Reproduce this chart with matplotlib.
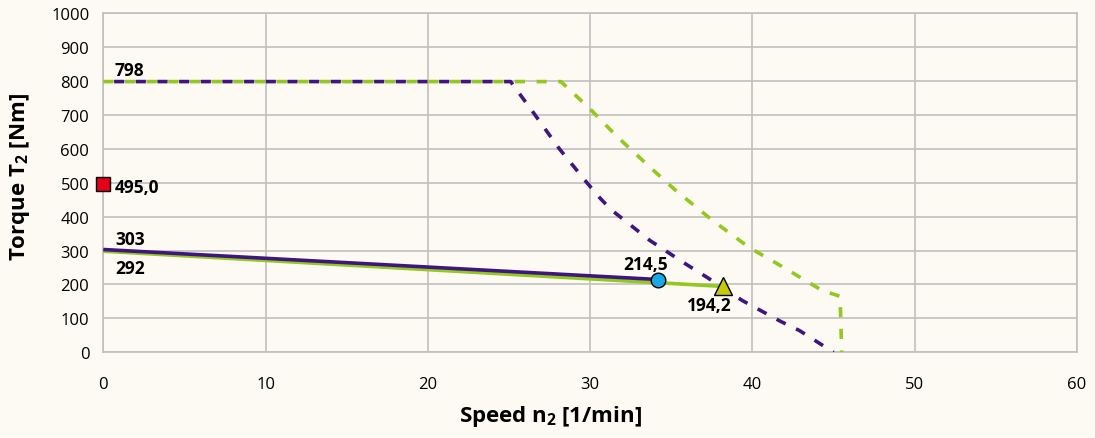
import matplotlib
matplotlib.use('Agg')
import matplotlib.pyplot as plt

plt.rcParams['font.family'] = ['Open Sans', 'DejaVu Sans']

# dashed limit curves (max torque)
lim_purple_x = [0, 25.1, 26.6, 28.1, 29.8, 30.6, 31.3, 33.7, 35.9, 37.2, 39.4, 41.7, 42.9, 45.0]
lim_purple_y = [798, 798, 700, 600, 500, 455, 420, 329, 260, 221, 152, 92, 64, 0]
lim_green_x = [0, 28.2, 30.0, 31.7, 33.7, 35.3, 37.56, 39.8, 42.0, 44.3, 45.4, 45.5]
lim_green_y = [798, 798, 717, 634, 545, 476, 388, 309, 248, 182, 165, 0]

# solid operating lines
op_purple_x = [0, 34.2]
op_purple_y = [303, 214.5]
op_green_x = [0, 38.2]
op_green_y = [298, 194.2]

# markers
sq_x, sq_y = 0, 495.0
circ_x, circ_y = 34.2, 214.5
tri_x, tri_y = 38.2, 194.2

purple = '#3f1680'
green = '#92c820'
bg = '#fcfaf2'
gridc = '#c0c0c0'

fig = plt.figure(figsize=(10.95, 4.39), dpi=100, facecolor=bg)
ax = fig.add_axes([0.0943, 0.1952, 0.8893, 0.7728])
ax.set_facecolor(bg)

lw = 2.6
ax.plot(lim_green_x, lim_green_y, color=green, lw=lw, linestyle=(0, (2.8, 3.2)), dash_capstyle='butt', zorder=3)
ax.plot(lim_purple_x, lim_purple_y, color=purple, lw=lw, linestyle=(3.0, (2.8, 3.2)), dash_capstyle='butt', zorder=3)

ax.plot(op_green_x, op_green_y, color=green, lw=2.6, solid_capstyle='butt', zorder=4)
ax.plot(op_purple_x, op_purple_y, color=purple, lw=2.6, solid_capstyle='butt', zorder=4)

ax.plot(sq_x, sq_y, marker='s', ms=9.5, mfc='#e2001a', mec='black', mew=1, clip_on=False, zorder=6)
ax.plot(circ_x, circ_y, marker='o', ms=10.5, mfc='#1aa7e6', mec='black', mew=1, zorder=6)
ax.plot(tri_x, tri_y, marker='^', ms=12.5, mfc='#c8c80a', mec='black', mew=1, zorder=6)

tkw = dict(fontsize=12.5, fontweight='bold', color='black', zorder=7)
ax.text(0.72, 832, '798', ha='left', va='center', **tkw)
ax.text(0.72, 487, '495,0', ha='left', va='center', **tkw)
ax.text(0.72, 334, '303', ha='left', va='center', **tkw)
ax.text(0.72, 248, '292', ha='left', va='center', **tkw)
ax.text(33.39, 260, '214,5', ha='center', va='center', **tkw)
ax.text(37.36, 139, '194,2', ha='center', va='center', **tkw)

ax.set_xlim(0, 60)
ax.set_ylim(0, 1000)
ax.set_xticks(range(0, 61, 10))
ax.set_yticks(range(0, 1001, 100))
ax.grid(True, color=gridc, lw=1.2)
ax.set_axisbelow(True)
for s in ax.spines.values():
    s.set_color(gridc)
    s.set_linewidth(1.2)
ax.tick_params(length=0, labelsize=12)
ax.tick_params(axis='x', pad=17)
ax.tick_params(axis='y', pad=10)

# axis titles placed like the original (x title sits left of centre)
fig.text(550 / 1095, 1 - 404 / 439, 'Speed n$_\\mathregular{2}$ [1/min]',
         fontsize=16, fontweight='bold', ha='center', va='top')
fig.text(20 / 1095, 1 - 177 / 439, 'Torque T$_\\mathregular{2}$ [Nm]',
         fontsize=16, fontweight='bold', ha='center', va='center', rotation=90)

fig.savefig('out.png', dpi=100, facecolor=bg)
